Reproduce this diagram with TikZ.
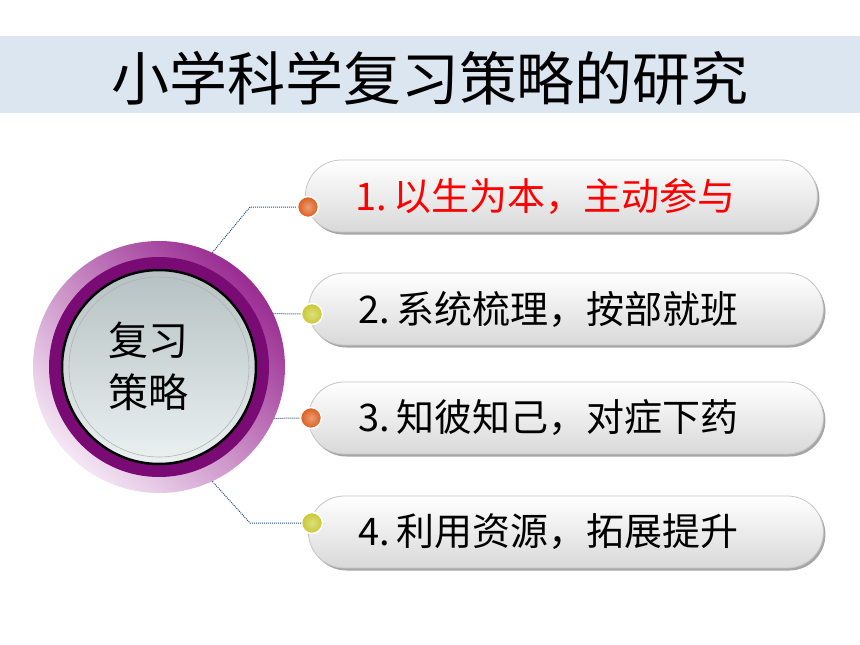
\documentclass[tikz,border=0pt]{standalone}
\usepackage{fontspec}
\newfontfamily\cjk{Noto Sans CJK SC}
\usetikzlibrary{shadows}
\definecolor{bandblue}{HTML}{DCE6F1}
\definecolor{ringdark}{HTML}{7A0A74}
\definecolor{ringtop}{HTML}{9A2C92}
\definecolor{ringlight}{HTML}{F4E6F4}
\definecolor{discdark}{HTML}{B5C1C3}
\definecolor{disclight}{HTML}{EBF1F1}
\definecolor{dotorange}{HTML}{DD5C1C}
\definecolor{dotyellow}{HTML}{C8C830}
\definecolor{linkblue}{HTML}{2A4A8A}

\begin{document}
\begin{tikzpicture}[x=1pt,y=-1pt,
  hub/.style={circle, minimum size=252pt, inner sep=0pt, top color=ringtop, bottom color=ringlight, shading angle=-45},
  hubtext/.style={align=center, font=\cjk\fontsize{40}{52}\selectfont},
  pill/.style={draw=gray!45, line width=0.8pt, rounded corners=36pt, top color=white, bottom color=gray!30,
    minimum height=72pt, anchor=west, align=left, inner xsep=50pt, font=\cjk\fontsize{38}{42}\selectfont,
    drop shadow={shadow xshift=2pt, shadow yshift=-2.5pt, fill=gray!70, opacity=1}},
  dot/.style={circle, minimum size=21pt, inner sep=0pt, draw=white, line width=1.5pt},
  link/.style={linkblue, densely dotted, line width=1pt}]
\useasboundingbox (0,0) rectangle (860,645);
\fill[white] (0,0) rectangle (860,645);
% title band
\fill[bandblue] (0,36) rectangle (860,113);
\node[font=\cjk\fontsize{58}{66}\selectfont] (title) at (430,78) {小学科学复习策略的研究};
% central circle
\node[hub] (hub) at (159,367) {};
\fill[ringdark] (hub.center) circle[radius=110];
\draw[black, line width=2.5pt, top color=discdark, bottom color=disclight] (hub.center) circle[radius=97];
\draw[gray!60, line width=0.6pt] (hub.center) circle[radius=90];
\node[hubtext] (hublabel) at (148,366) {复习\\策略};
% items
\foreach \n/\py/\px/\tw/\txt/\tcol in {1/196/305/412/{1.\kern6pt以生为本，主动参与}/red,
    2/309/308/415/{2.\kern6pt系统梳理，按部就班}/black,
    3/418/308/415/{3.\kern6pt知彼知己，对症下药}/black,
    4/532/308/415/{4.\kern6pt利用资源，拓展提升}/black}
  \node[pill, text width=\tw pt, text=\tcol] (pill\n) at (\px,\py) {\txt};
\foreach \n/\dx/\dy/\dc in {1/308/207/dotorange, 2/312/314/dotyellow, 3/311/418/dotorange, 4/312/523/dotyellow}
  \node[dot, inner color=\dc!60!white, outer color=\dc] (dot\n) at (\dx,\dy) {};
% connectors
\coordinate (bend1) at (250,207);
\coordinate (bend4) at (250,523);
\draw[link] (hub.65) -- (bend1) -- (dot1);
\draw[link] (hub.25) -- (dot2);
\draw[link] (hub.-24) -- (dot3);
\draw[link] (hub.-65) -- (bend4) -- (dot4);
\end{tikzpicture}
\end{document}
